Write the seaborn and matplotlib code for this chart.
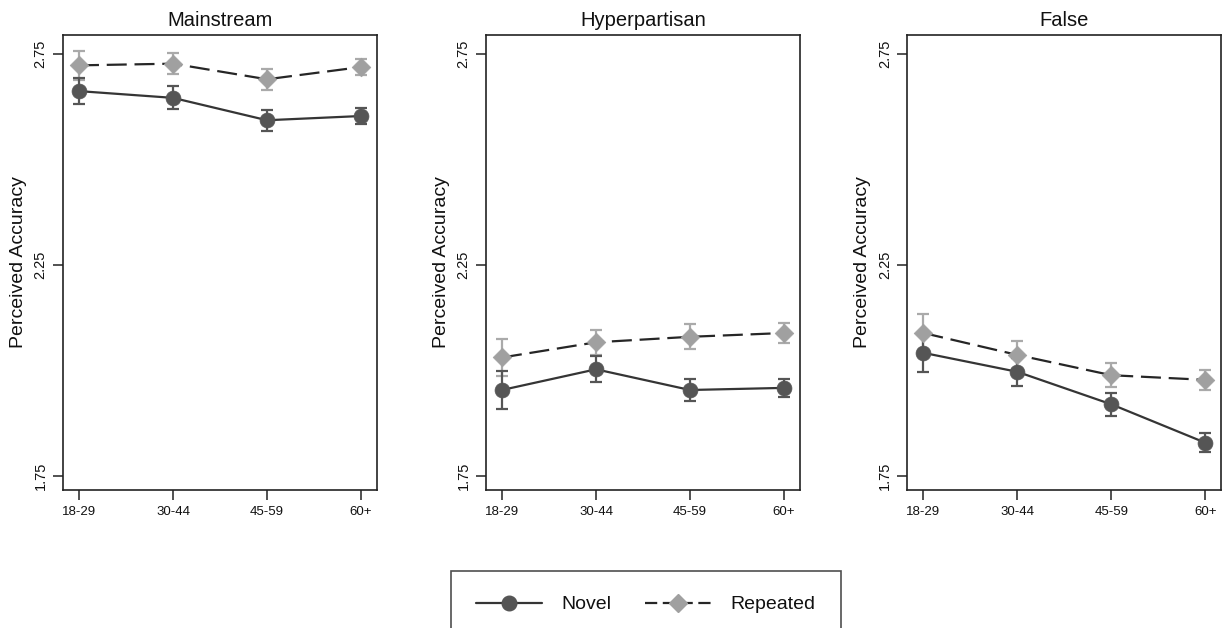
import numpy as np
import pandas as pd
import matplotlib
matplotlib.use("Agg")
import matplotlib.pyplot as plt
from matplotlib.lines import Line2D
import seaborn as sns

# %%
ages = ["18-29", "30-44", "45-59", "60+"]
panels = ["Mainstream", "Hyperpartisan", "False"]

novel_mean = {
    "Mainstream":    [2.661, 2.645, 2.592, 2.602],
    "Hyperpartisan": [1.953, 2.002, 1.953, 1.958],
    "False":         [2.041, 1.996, 1.919, 1.828],
}
novel_err = {
    "Mainstream":    [0.031, 0.027, 0.025, 0.018],
    "Hyperpartisan": [0.046, 0.031, 0.027, 0.021],
    "False":         [0.045, 0.033, 0.028, 0.023],
}
repeated_mean = {
    "Mainstream":    [2.722, 2.726, 2.689, 2.718],
    "Hyperpartisan": [2.030, 2.066, 2.079, 2.088],
    "False":         [2.088, 2.036, 1.988, 1.977],
}
repeated_err = {
    "Mainstream":    [0.035, 0.025, 0.025, 0.019],
    "Hyperpartisan": [0.043, 0.030, 0.030, 0.023],
    "False":         [0.045, 0.033, 0.028, 0.023],
}
y_ticks = [1.75, 2.25, 2.75]

# %%
COR_NOVEL = "#555555"
COR_NOVEL_LINHA = "#353535"
COR_REP = "#a0a0a0"
COR_REP_ERR = "#aaaaaa"
COR_REP_LINHA = "#262626"

sns.set_theme(style="ticks")
plt.rcParams["font.family"] = ["Liberation Sans", "DejaVu Sans"]
plt.rcParams["text.color"] = "#111111"
plt.rcParams["axes.labelcolor"] = "#111111"
plt.rcParams["xtick.color"] = "#111111"
plt.rcParams["ytick.color"] = "#111111"

fig = plt.figure(figsize=(12.23, 6.28), dpi=100)
lefts = [0.0515, 0.3974, 0.742]
largura = 0.2567
base, altura = 0.219, 0.726

series = [
    ("Repeated", repeated_mean, repeated_err, COR_REP, COR_REP_ERR, COR_REP_LINHA, "D", (0, (9, 3.5))),
    ("Novel", novel_mean, novel_err, COR_NOVEL, COR_NOVEL, COR_NOVEL_LINHA, "o", "-"),
]

for painel, esq in zip(panels, lefts):
    ax = fig.add_axes([esq, base, largura, altura])
    for nome, medias, erros, cor, cor_err, cor_linha, marcador, estilo in series:
        ax.errorbar(ages, medias[painel], yerr=erros[painel], fmt="none",
                    ecolor=cor_err, elinewidth=1.6, capsize=4.5, capthick=1.6, zorder=2)
        sns.lineplot(x=ages, y=medias[painel], ax=ax, color=cor_linha,
                     linestyle=estilo, linewidth=1.6, sort=False, zorder=3)
        sns.scatterplot(x=ages, y=medias[painel], ax=ax, marker=marcador,
                        s=115 if marcador == "o" else 90, color=cor,
                        edgecolor=cor, linewidth=0.5, zorder=4)

    ax.set_xlim(-0.17, 3.17)
    ax.set_ylim(1.715, 2.795)
    ax.set_yticks(y_ticks)
    ax.set_yticklabels([f"{v:.2f}" for v in y_ticks], rotation=90, va="center")
    ax.tick_params(axis="both", direction="out", length=7, width=1.1,
                   color="#222222", pad=4)
    ax.tick_params(axis="x", labelsize=9.5)
    ax.tick_params(axis="y", labelsize=10.5)
    for sp in ax.spines.values():
        sp.set_visible(True)
        sp.set_color("#222222")
        sp.set_linewidth(1.2)
    ax.set_xlabel("")
    ax.set_ylabel("Perceived Accuracy", fontsize=14, labelpad=5)
    ax.set_title(painel, fontsize=14.5, pad=6)

handles = [
    Line2D([], [], color=COR_NOVEL_LINHA, linestyle="-", linewidth=1.6,
           marker="o", markersize=10.5, markerfacecolor=COR_NOVEL, markeredgecolor=COR_NOVEL),
    Line2D([], [], color=COR_REP_LINHA, linestyle=(0, (5.5, 2.5)), linewidth=1.6,
           marker="D", markersize=9.5, markerfacecolor=COR_REP, markeredgecolor=COR_REP),
]
leg = fig.legend(handles, ["Novel", "Repeated"], loc="upper center",
                 bbox_to_anchor=(0.528, 0.107), ncol=2, fontsize=14,
                 frameon=True, fancybox=False, handlelength=3.4,
                 handletextpad=1.0, columnspacing=1.7, borderpad=1.3)
leg.get_frame().set_edgecolor("#222222")
leg.get_frame().set_linewidth(1.2)

fig.savefig("out.png", dpi=100, facecolor="white")
